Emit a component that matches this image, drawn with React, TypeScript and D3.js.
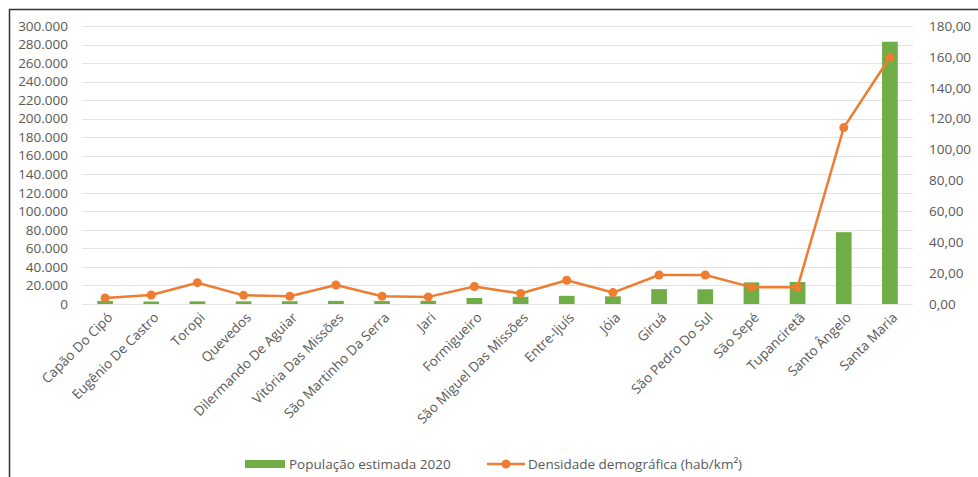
import React from "react";
import * as d3 from "d3";

const categories = [
  "Capão Do Cipó", "Eugênio De Castro", "Toropi", "Quevedos", "Dilermando De Aguiar",
  "Vitória Das Missões", "São Martinho Da Serra", "Jari", "Formigueiro", "São Miguel Das Missões",
  "Entre-Ijuís", "Jóia", "Giruá", "São Pedro Do Sul", "São Sepé", "Tupanciretã",
  "Santo Ângelo", "Santa Maria",
];
const population = [
  3300, 2700, 2900, 2900, 3000, 3400, 3200, 3500, 6500, 7800,
  8800, 8300, 16000, 15900, 23300, 23800, 77500, 283000,
];
const density = [
  3.9, 5.8, 13.8, 5.6, 5.0, 12.3, 5.0, 4.6, 11.3, 6.8,
  15.4, 7.4, 18.8, 18.8, 10.9, 10.9, 114.2, 159.8,
];
const leftTicks = d3.range(0, 300001, 20000);
const rightTicks = d3.range(0, 181, 20);

const W = 978, H = 477;
const plotL = 82, plotR = 913, plotT = 26, plotB = 304;
const font = "'Open Sans', 'Liberation Sans', sans-serif";
const textColor = "#595959";
const green = "#70ad47";
const orange = "#ed7d31";
const fs = 13.5;

const fmtLeft = (v: number) => (v === 0 ? "0" : d3.format(",.0f")(v).replace(/,/g, "."));
const fmtRight = (v: number) => v.toFixed(2).replace(".", ",");

export default function App() {
  const x = d3.scaleBand<string>().domain(categories).range([plotL, plotR]).paddingInner(0.66).paddingOuter(0.33);
  const yL = d3.scaleLinear().domain([0, 300000]).range([plotB, plotT]);
  const yR = d3.scaleLinear().domain([0, 180]).range([plotB, plotT]);
  const cx = (c: string) => (x(c) as number) + x.bandwidth() / 2;
  const line = d3.line<number>().x((_, i) => cx(categories[i])).y((d) => yR(d));

  return (
    <svg width={W} height={H} style={{ position: "absolute", left: 0, top: 0, background: "#fff" }} fontFamily={font}>
      <rect x={0} y={0} width={W} height={H} fill="#fff" />
      <line x1={9.5} y1={9} x2={9.5} y2={H} stroke="#333" strokeWidth={1.5} />
      <line x1={9} y1={9.5} x2={W} y2={9.5} stroke="#333" strokeWidth={1.5} />
      {leftTicks.map((t) => (
        <line key={"g" + t} x1={plotL} x2={plotR} y1={Math.round(yL(t)) + 0.5} y2={Math.round(yL(t)) + 0.5} stroke="#e3e3e3" strokeWidth={1} />
      ))}
      {leftTicks.map((t) => (
        <text key={"l" + t} x={68} y={yL(t)} dy="0.35em" textAnchor="end" fontSize={fs} fill={textColor}>
          {fmtLeft(t)}
        </text>
      ))}
      {rightTicks.map((t) => (
        <text key={"r" + t} x={929} y={yR(t)} dy="0.35em" textAnchor="start" fontSize={fs} fill={textColor}>
          {fmtRight(t)}
        </text>
      ))}
      {categories.map((c, i) => (
        <rect key={"b" + c} x={x(c)} y={yL(population[i])} width={x.bandwidth()} height={plotB - yL(population[i])} fill={green} />
      ))}
      <path d={line(density) || ""} fill="none" stroke={orange} strokeWidth={2.5} strokeLinejoin="round" />
      {density.map((d, i) => (
        <circle key={"p" + i} cx={cx(categories[i])} cy={yR(d)} r={4.5} fill={orange} />
      ))}
      {categories.map((c) => (
        <text key={"x" + c} transform={`translate(${cx(c) + 5},${plotB + 11}) rotate(-45)`} textAnchor="end" dy="0.35em" fontSize={fs} fill={textColor}>
          {c}
        </text>
      ))}
      <rect x={245} y={460} width={40} height={8} fill={green} />
      <text x={289} y={464} dy="0.35em" fontSize={fs} fill={textColor}>População estimada 2020</text>
      <line x1={487} x2={525} y1={464} y2={464} stroke={orange} strokeWidth={2.5} />
      <circle cx={506} cy={464} r={4.5} fill={orange} />
      <text x={528} y={464} dy="0.35em" fontSize={fs} fill={textColor}>Densidade demográfica (hab/km²)</text>
    </svg>
  );
}
